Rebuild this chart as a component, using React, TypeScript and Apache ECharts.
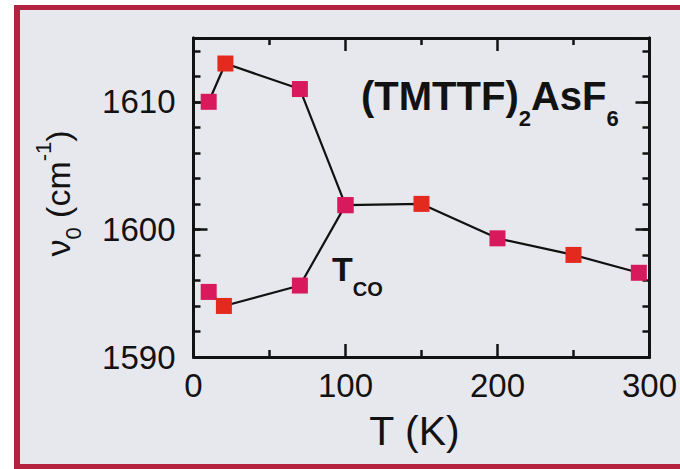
import React, { useEffect, useRef } from "react";
import * as echarts from "echarts";

// Peak frequency of the ν0 mode of (TMTTF)2AsF6 versus temperature
const upperTemps = [10, 21, 70, 100, 150, 200, 250, 293];
const upperNu = [1610, 1613, 1611, 1601.9, 1602, 1599.3, 1598, 1596.6];
const upperTones = ["pink", "red", "pink", "pink", "red", "pink", "red", "pink"];

const lowerTemps = [10, 20, 70, 100];
const lowerNu = [1595.1, 1594, 1595.6, 1601.9];
const lowerTones = ["pink", "red", "pink", "pink"];

const xRange = [0, 300];
const yRange = [1590, 1615];

const toneColor: Record<string, string> = { pink: "#d8195c", red: "#e4291f" };

const FONT = "'Liberation Sans', Arial, Helvetica, sans-serif";
const INK = "#121212";

function buildSeriesData(ts: number[], vs: number[], tones: string[]) {
  return ts.map((t, i) => ({
    value: [t, vs[i]],
    itemStyle: { color: toneColor[tones[i]] },
  }));
}

function xAxisDef(position: "bottom" | "top", withLabels: boolean) {
  return {
    type: "value",
    position,
    min: xRange[0],
    max: xRange[1],
    interval: 100,
    axisLine: { show: true, onZero: false, lineStyle: { color: INK, width: 3 } },
    axisTick: { show: true, inside: true, length: 13, lineStyle: { color: INK, width: 2.5 } },
    minorTick: { show: true, splitNumber: 2, length: 7, lineStyle: { color: INK, width: 2.5 } },
    axisLabel: { show: withLabels, margin: 12, fontSize: 33, fontFamily: FONT, color: INK },
    splitLine: { show: false },
    minorSplitLine: { show: false },
    ...(withLabels
      ? {
          name: "T (K)",
          nameLocation: "middle",
          nameGap: 53,
          nameTextStyle: { fontSize: 41, fontFamily: FONT, color: INK, padding: [0, 14, 0, 0] },
        }
      : {}),
  };
}

function yAxisDef(position: "left" | "right", step: number, tickLen: number, withLabels: boolean) {
  return {
    type: "value",
    position,
    min: yRange[0],
    max: yRange[1],
    interval: step,
    axisLine: { show: true, onZero: false, lineStyle: { color: INK, width: 3 } },
    axisTick: { show: true, inside: true, length: tickLen, lineStyle: { color: INK, width: 2.5 } },
    axisLabel: {
      show: withLabels,
      margin: 18,
      fontSize: 33,
      fontFamily: FONT,
      color: INK,
      formatter: (v: number) => (v % 10 === 0 ? String(v) : ""),
    },
    splitLine: { show: false },
  };
}

export default function App() {
  const ref = useRef<HTMLDivElement>(null);

  useEffect(() => {
    if (!ref.current) return;
    const chart = echarts.init(ref.current, null, { renderer: "svg" });

    const pointStyle = {
      type: "line",
      symbol: "rect",
      symbolSize: 16,
      showAllSymbol: true,
      lineStyle: { color: "#111111", width: 2.2 },
      emphasis: { disabled: true },
      silent: true,
      xAxisIndex: 0,
      yAxisIndex: 0,
    };

    chart.setOption({
      animation: false,
      backgroundColor: "#e7e7ee",
      grid: { left: 193.5, right: 23.3, top: 38, bottom: 112, containLabel: false },
      xAxis: [xAxisDef("bottom", true), xAxisDef("top", false)],
      yAxis: [
        yAxisDef("left", 10, 14, true),
        yAxisDef("left", 2, 7, false),
        yAxisDef("right", 10, 14, false),
        yAxisDef("right", 2, 7, false),
      ],
      series: [
        { ...pointStyle, name: "upper", data: buildSeriesData(upperTemps, upperNu, upperTones) },
        { ...pointStyle, name: "lower", data: buildSeriesData(lowerTemps, lowerNu, lowerTones) },
      ],
      graphic: [
        // white page edge and the crimson frame
        { type: "rect", silent: true, shape: { x: 0, y: 0, width: 680, height: 5 }, style: { fill: "#ffffff" } },
        { type: "rect", silent: true, shape: { x: 0, y: 0, width: 14, height: 469 }, style: { fill: "#ffffff" } },
        { type: "rect", silent: true, shape: { x: 14, y: 5, width: 666, height: 5 }, style: { fill: "#b5223f" } },
        { type: "rect", silent: true, shape: { x: 14, y: 5, width: 6, height: 464 }, style: { fill: "#b5223f" } },
        { type: "rect", silent: true, shape: { x: 14, y: 464, width: 666, height: 5 }, style: { fill: "#b5223f" } },
        {
          type: "text",
          silent: true,
          x: 361,
          y: 96,
          style: {
            text: "{m|(TMTTF)}{s|2}{m|AsF}{s|6}",
            align: "left",
            verticalAlign: "middle",
            rich: {
              m: { fontSize: 40, fontWeight: "bold", fontFamily: FONT, fill: INK },
              s: { fontSize: 22, fontWeight: "bold", fontFamily: FONT, fill: INK, padding: [44, 0, 0, 0] },
            },
          },
        },
        {
          type: "text",
          silent: true,
          x: 332,
          y: 269,
          style: {
            text: "{t|T}{c|CO}",
            align: "left",
            verticalAlign: "middle",
            rich: {
              t: { fontSize: 34, fontWeight: "bold", fontFamily: FONT, fill: INK },
              c: { fontSize: 20, fontWeight: "bold", fontFamily: FONT, fill: INK, padding: [39, 0, 0, 0] },
            },
          },
        },
        {
          type: "text",
          silent: true,
          x: 58,
          y: 193.5,
          rotation: Math.PI / 2,
          style: {
            text: "{m|ν}{sb|0}{m| (cm}{sp|-1}{m|)}",
            align: "center",
            verticalAlign: "middle",
            rich: {
              m: { fontSize: 34, fontFamily: FONT, fill: INK },
              sb: { fontSize: 22, fontFamily: FONT, fill: INK, padding: [30, 0, 0, 0] },
              sp: { fontSize: 22, fontFamily: FONT, fill: INK, padding: [0, 0, 30, 0] },
            },
          },
        },
      ],
    });

    return () => chart.dispose();
  }, []);

  return (
    <div
      ref={ref}
      style={{ position: "absolute", left: 0, top: 0, width: 680, height: 469 }}
    />
  );
}
